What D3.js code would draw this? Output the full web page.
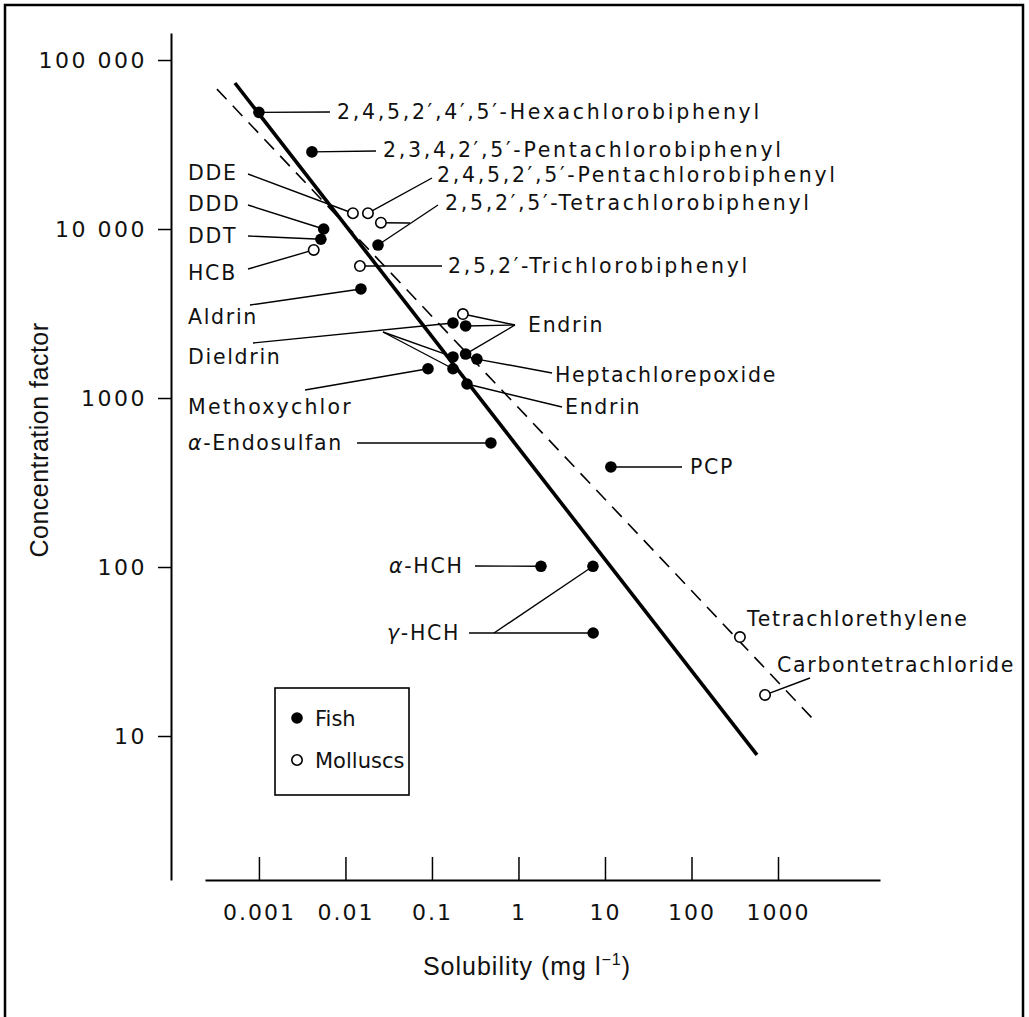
<!DOCTYPE html>
<html><head><meta charset="utf-8">
<script src="https://cdn.jsdelivr.net/npm/d3@7"></script>
<style>body{margin:0;background:#fff}</style>
</head><body>
<script>
// ---------- data ----------
const xTickValues = [0.001, 0.01, 0.1, 1, 10, 100, 1000];
const xTickLabels = ["0.001", "0.01", "0.1", "1", "10", "100", "1000"];
const yTickValues = [10, 100, 1000, 10000, 100000];
const yTickLabels = ["10", "100", "1000", "10 000", "100 000"];

const compounds = [
  "2,4,5,2′,4′,5′-Hexachlorobiphenyl", // 0
  "2,3,4,2′,5′-Pentachlorobiphenyl",   // 1
  "DDE",                               // 2
  "2,4,5,2′,5′-Pentachlorobiphenyl",   // 3
  "2,5,2′,5′-Tetrachlorobiphenyl",     // 4
  "2,5,2′,5′-Tetrachlorobiphenyl",     // 5
  "DDD",                               // 6
  "DDT",                               // 7
  "HCB",                               // 8
  "2,5,2′-Trichlorobiphenyl",          // 9
  "Aldrin",                            // 10
  "Endrin",                            // 11
  "Dieldrin",                          // 12
  "Endrin",                            // 13
  "Dieldrin",                          // 14
  "Endrin",                            // 15
  "Heptachlorepoxide",                 // 16
  "Dieldrin",                          // 17
  "Methoxychlor",                      // 18
  "Endrin",                            // 19
  "α-Endosulfan",                      // 20
  "PCP",                               // 21
  "α-HCH",                             // 22
  "γ-HCH",                             // 23
  "γ-HCH",                             // 24
  "Tetrachlorethylene",                // 25
  "Carbontetrachloride"                // 26
];
const solubility = [0.001, 0.0041, 0.0122, 0.0182, 0.0257, 0.0238, 0.0056, 0.0052, 0.0043, 0.0147,
  0.0151, 0.228, 0.175, 0.245, 0.175, 0.245, 0.331, 0.175, 0.090, 0.254,
  0.48, 11.7, 1.82, 7.26, 7.3, 363, 708];
const concentrationFactor = [49000, 28600, 12400, 12400, 10900, 8040, 10000, 8700, 7520, 6040,
  4420, 3140, 2780, 2670, 1750, 1820, 1700, 1490, 1490, 1210,
  542, 391, 101, 101, 40.7, 38.5, 17.5];
const organism = ["Fish", "Fish", "Molluscs", "Molluscs", "Molluscs", "Fish", "Fish", "Fish", "Molluscs", "Molluscs",
  "Fish", "Molluscs", "Fish", "Fish", "Fish", "Fish", "Fish", "Fish", "Fish", "Fish",
  "Fish", "Fish", "Fish", "Fish", "Fish", "Molluscs", "Molluscs"];

// regression lines (end points)
const fishLineSolubility = [0.000528, 571];
const fishLineConc = [73100, 7.73];
const molluscLineSolubility = [0.000327, 2540];
const molluscLineConc = [67300, 12.6];

const legendItems = ["Fish", "Molluscs"];

// ---------- layout ----------
const W = 1029, H = 1017;
const LABEL_FONT = "'DejaVu Sans', sans-serif";
const TITLE_FONT = "'Liberation Sans', Arial, sans-serif";

const svg = d3.select("body").append("svg").attr("width", W).attr("height", H);

// frame
svg.append("path").attr("d", "M5,1017 V5 H1023 V1017").attr("fill", "none")
  .attr("stroke", "#000").attr("stroke-width", 2.5);

const x = d3.scaleLog().domain([0.000238, 15100]).range([205, 880]);
const y = d3.scaleLog().domain([1.406, 144500]).range([880, 33]);

// y axis
const yAxis = svg.append("g").attr("transform", "translate(171,0)")
  .call(d3.axisLeft(y).tickValues(yTickValues).tickFormat((d, i) => yTickLabels[i])
    .tickSizeInner(13).tickSizeOuter(0).tickPadding(11));
yAxis.select(".domain").attr("stroke-width", 2);
yAxis.selectAll(".tick line").attr("stroke-width", 1.5);
yAxis.selectAll(".tick text").attr("font-family", LABEL_FONT).attr("font-size", 22)
  .attr("letter-spacing", 2.5).attr("fill", "#111");

// x axis
const xAxis = svg.append("g").attr("transform", "translate(0,880)")
  .call(d3.axisBottom(x).tickValues(xTickValues).tickFormat((d, i) => xTickLabels[i])
    .tickSizeInner(-23).tickSizeOuter(0).tickPadding(24));
xAxis.select(".domain").attr("stroke-width", 2);
xAxis.selectAll(".tick line").attr("stroke-width", 1.5);
xAxis.selectAll(".tick text").attr("font-family", LABEL_FONT).attr("font-size", 22)
  .attr("letter-spacing", 2).attr("fill", "#111");

// axis titles
svg.append("text").attr("transform", "translate(48,440) rotate(-90)")
  .attr("text-anchor", "middle").attr("font-family", TITLE_FONT).attr("font-size", 25)
  .attr("letter-spacing", 0.5).attr("fill", "#111").text("Concentration factor");

const xt = svg.append("text").attr("x", 527).attr("y", 975).attr("text-anchor", "middle")
  .attr("font-family", TITLE_FONT).attr("font-size", 25).attr("letter-spacing", 1).attr("fill", "#111");
xt.append("tspan").text("Solubility (mg l");
xt.append("tspan").attr("dy", -10).attr("font-size", 16).text("−1");
xt.append("tspan").attr("dy", 10).text(")");

// regression lines
const line = d3.line().x(d => x(d[0])).y(d => y(d[1]));
svg.append("path").datum(d3.zip(fishLineSolubility, fishLineConc)).attr("d", line)
  .attr("fill", "none").attr("stroke", "#000").attr("stroke-width", 3.6);
svg.append("path").datum(d3.zip(molluscLineSolubility, molluscLineConc)).attr("d", line)
  .attr("fill", "none").attr("stroke", "#000").attr("stroke-width", 1.6)
  .attr("stroke-dasharray", "14,9");

// leader lines: [point index, anchor x, anchor y]
const leaders = [
  [0, 330, 112], [1, 376, 151], [3, 432, 178], [5, 438, 205], [4, 410, 223],
  [9, 442, 266], [2, 248, 174], [6, 248, 205], [7, 248, 236], [8, 248, 269],
  [10, 250, 305], [12, 253, 343], [14, 383, 332], [17, 383, 332], [18, 305, 390],
  [20, 357, 443], [11, 515, 325], [13, 515, 325], [15, 515, 325], [16, 552, 373],
  [19, 562, 407], [21, 682, 467], [22, 475, 566], [24, 469, 633], [23, 494, 633],
  [26, 810, 678]
];
svg.append("g").selectAll("line").data(leaders).join("line")
  .attr("x1", d => x(solubility[d[0]])).attr("y1", d => y(concentrationFactor[d[0]]))
  .attr("x2", d => d[1]).attr("y2", d => d[2])
  .attr("stroke", "#000").attr("stroke-width", 1.4);

// points
const pts = d3.range(compounds.length);
svg.append("g").selectAll("circle").data(pts).join("circle")
  .attr("cx", i => x(solubility[i])).attr("cy", i => y(concentrationFactor[i]))
  .attr("r", i => organism[i] === "Fish" ? 5.8 : 5.2)
  .attr("fill", i => organism[i] === "Fish" ? "#000" : "#fff")
  .attr("stroke", "#000").attr("stroke-width", i => organism[i] === "Fish" ? 0 : 1.6);

// labels: [text, x, y, letter-spacing]
const labels = [
  [compounds[0], 337, 112, 2.7], [compounds[1], 383, 150, 2.7], [compounds[3], 437, 175, 2.7],
  [compounds[4], 445, 203, 2.7], [compounds[9], 448, 266, 2.7],
  ["DDE", 188, 173, 1.7], ["DDD", 188, 204, 1.7], ["DDT", 188, 236, 1.7], ["HCB", 188, 273, 1.7],
  ["Aldrin", 188, 317, 1.7], ["Dieldrin", 188, 357, 1.7], ["Methoxychlor", 188, 407, 2.2],
  ["α-Endosulfan", 188, 443, 1.7],
  ["Endrin", 528, 325, 1.7], ["Heptachlorepoxide", 555, 375, 1.7], ["Endrin", 565, 407, 1.7],
  ["PCP", 690, 467, 1.7], ["α-HCH", 389, 566, 1.7], ["γ-HCH", 387, 633, 1.7],
  ["Tetrachlorethylene", 747, 619, 1.7], ["Carbontetrachloride", 777, 665, 1.7]
];
const lab = svg.append("g").selectAll("text").data(labels).join("text")
  .attr("x", d => d[1]).attr("y", d => d[2]).attr("dy", "0.36em")
  .attr("font-family", LABEL_FONT).attr("font-size", 20.5).attr("letter-spacing", d => d[3])
  .attr("fill", "#111");
lab.each(function (d) {
  const t = d3.select(this);
  const s = d[0];
  if (s[0] === "α" || s[0] === "γ") {
    t.append("tspan").attr("font-style", "italic").text(s[0]);
    t.append("tspan").text(s.slice(1));
  } else {
    t.text(s);
  }
});

// legend
const lg = svg.append("g");
lg.append("rect").attr("x", 275).attr("y", 688).attr("width", 134).attr("height", 107)
  .attr("fill", "#fff").attr("stroke", "#000").attr("stroke-width", 1.6);
legendItems.forEach((name, i) => {
  const cy = 718 + i * 42;
  lg.append("circle").attr("cx", 297).attr("cy", cy).attr("r", name === "Fish" ? 5.8 : 5.2)
    .attr("fill", name === "Fish" ? "#000" : "#fff").attr("stroke", "#000")
    .attr("stroke-width", name === "Fish" ? 0 : 1.6);
  lg.append("text").attr("x", 315).attr("y", cy).attr("dy", "0.36em")
    .attr("font-family", LABEL_FONT).attr("font-size", 21).attr("fill", "#111").text(name);
});
</script>
</body></html>
